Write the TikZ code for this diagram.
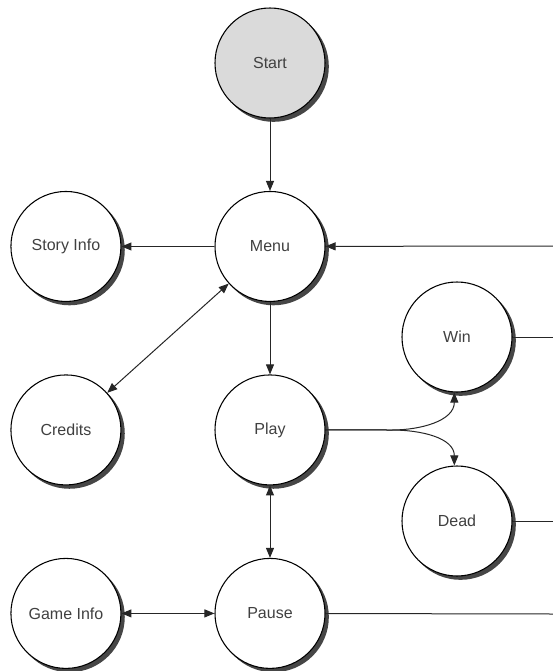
\documentclass[tikz,border=0pt]{standalone}
\usepackage{fontspec}
\setmainfont{Liberation Sans}
\usepackage{tikz}
\usetikzlibrary{positioning}
\usetikzlibrary{backgrounds}
\usetikzlibrary{arrows.meta}

\definecolor{startgray}{RGB}{218,218,218}
\definecolor{shadowgray}{RGB}{70,70,70}
\newcommand{\statefont}{\fontsize{12pt}{14pt}\selectfont}

\begin{document}
\begin{tikzpicture}[
        x = 0.75pt, y = -0.75pt,
        state/.style = {
            draw,
            circle,
            fill = white,
            minimum size = 82.5pt,
            inner sep = 0pt,
            line width = 0.8pt,
            font = \statefont,
            text = black!75
        },
        link/.style = {line width = 0.75pt, black!85},
        >={Triangle[length=7.5pt, width=6pt]},
        node distance = {137.6pt}
        ]
        \useasboundingbox (0,0) rectangle (553,671);
%
        \node[state, fill=startgray] (start) at (270,63) {Start};
        \node[state, below of=start] (menu) {Menu};
        \node[state, below of=menu] (play) {Play};
        \node[state, below of=play] (pause) {Pause};
%
        \node[state] (story) [left=69.75pt of menu] {Story Info};
        \node[state] (credits) [left=69.75pt of play] {Credits};
        \node[state] (gameinfo) [left=69.75pt of pause] {Game Info};
%
        \node[state] (win) at (457,337) {Win};
        \node[state] (dead) at (457,521) {Dead};
%
        % shadows behind the circles
        \begin{scope}[on background layer]
            \foreach \n in {start, menu, play, pause, story, credits, gameinfo, win, dead}
                \fill[shadowgray] (\n.center) ++(3.5,3.5) circle [radius=41.5pt];
        \end{scope}
%
        \coordinate (menuin) at (553,246);
        \coordinate (winout) at (553,337);
        \coordinate (deadout) at (553,521);
        \coordinate (pauseout) at (553,614);
        \coordinate (split) at (392,430);
%
        \draw[->, link] (start) -- (menu);
        \draw[->, link] (menu) -- (story);
        \draw[<->, link] (menu) -- (credits);
        \draw[->, link] (menu) -- (play);
        \draw[<->, link] (play) -- (pause);
        \draw[<->, link] (gameinfo) -- (pause);
%
        \draw[->, link] (menuin) -- (menu);
        \draw[link] (win) -- (winout);
        \draw[link] (dead) -- (deadout);
        \draw[link] (pause) -- (pauseout);
%
        \draw[->, link] (play.east) -- (split) to [out=0, in=-90] ([xshift=-2pt]win.south);
        \draw[->, link] (play.east) -- (split) to [out=0, in=90] ([xshift=-2pt]dead.north);
    \end{tikzpicture}
\end{document}
